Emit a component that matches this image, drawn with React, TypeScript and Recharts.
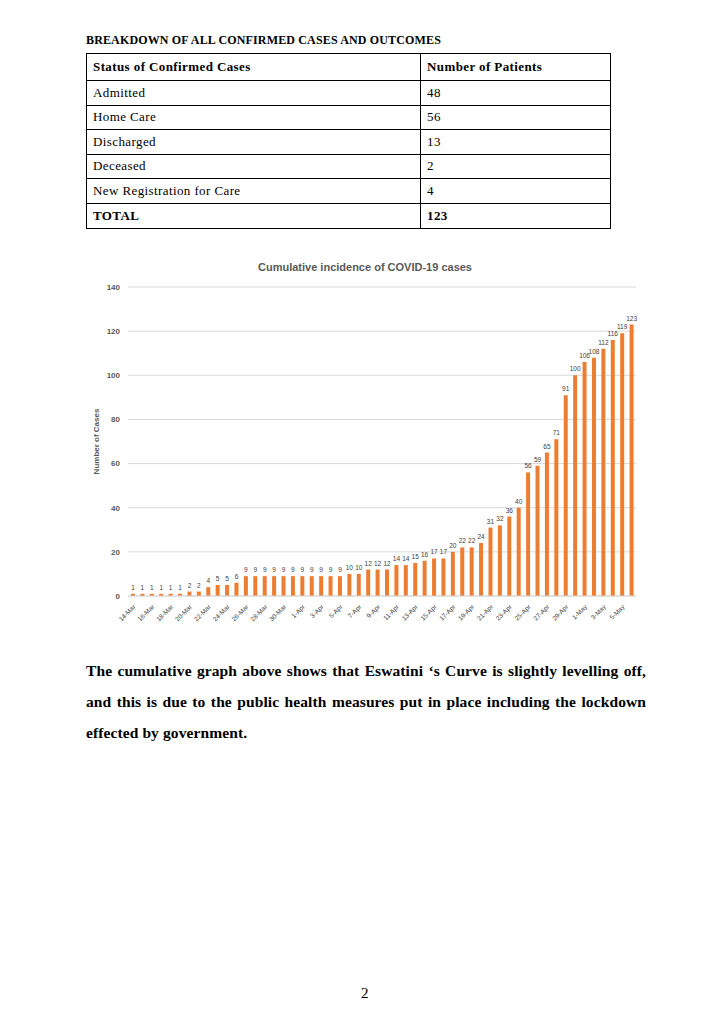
import React from "react";
import { BarChart, Bar, XAxis, YAxis, CartesianGrid, LabelList } from "recharts";

const dates = [
  "14-Mar", "15-Mar", "16-Mar", "17-Mar", "18-Mar", "19-Mar", "20-Mar", "21-Mar", "22-Mar", "23-Mar",
  "24-Mar", "25-Mar", "26-Mar", "27-Mar", "28-Mar", "29-Mar", "30-Mar", "31-Mar", "1-Apr", "2-Apr",
  "3-Apr", "4-Apr", "5-Apr", "6-Apr", "7-Apr", "8-Apr", "9-Apr", "10-Apr", "11-Apr", "12-Apr",
  "13-Apr", "14-Apr", "15-Apr", "16-Apr", "17-Apr", "18-Apr", "19-Apr", "20-Apr", "21-Apr", "22-Apr",
  "23-Apr", "24-Apr", "25-Apr", "26-Apr", "27-Apr", "28-Apr", "29-Apr", "30-Apr", "1-May", "2-May",
  "3-May", "4-May", "5-May", "6-May",
];

const cases = [
  1, 1, 1, 1, 1, 1, 2, 2, 4, 5,
  5, 6, 9, 9, 9, 9, 9, 9, 9, 9,
  9, 9, 9, 10, 10, 12, 12, 12, 14, 14,
  15, 16, 17, 17, 20, 22, 22, 24, 31, 32,
  36, 40, 56, 59, 65, 71, 91, 100, 106, 108,
  112, 116, 119, 123,
];

const yTicks = [0, 20, 40, 60, 80, 100, 120, 140];

const statuses = ["Admitted", "Home Care", "Discharged", "Deceased", "New Registration for Care"];
const patients = [48, 56, 13, 2, 4];
const total = 123;

const paragraph = [
  " The cumulative graph above shows that  Eswatini \u2018s Curve is slightly levelling off,",
  "and this is due to the public health measures put in place including the lockdown",
  "effected by government.",
];

const data = dates.map((d, i) => ({ date: d, cases: cases[i] }));

const serif = "'Liberation Serif', 'DejaVu Serif', serif";
const sans = "'Liberation Sans', Arial, sans-serif";

const cell: React.CSSProperties = {
  border: "1px solid #000",
  padding: "0 6px",
  verticalAlign: "middle",
  textAlign: "left",
};

export default function App() {
  return (
    <div style={{ position: "absolute", left: 0, top: 0, width: 720, height: 1015, background: "#fff", fontFamily: serif, color: "#000" }}>
      <div style={{ position: "absolute", left: 86, top: 33, fontWeight: "bold", fontSize: 12, letterSpacing: 0.15 }}>
        BREAKDOWN OF ALL CONFIRMED CASES AND OUTCOMES
      </div>

      <table
        style={{
          position: "absolute",
          left: 86,
          top: 53,
          width: 525,
          borderCollapse: "collapse",
          fontSize: 13,
          letterSpacing: 0.4,
        }}
      >
        <tbody>
          <tr style={{ height: 27, fontWeight: "bold" }}>
            <td style={{ ...cell, width: 321 }}>Status of Confirmed Cases</td>
            <td style={cell}>Number of Patients</td>
          </tr>
          {statuses.map((s, i) => (
            <tr key={s} style={{ height: 24.5 }}>
              <td style={cell}>{s}</td>
              <td style={cell}>{patients[i]}</td>
            </tr>
          ))}
          <tr style={{ height: 25, fontWeight: "bold" }}>
            <td style={cell}>TOTAL</td>
            <td style={cell}>{total}</td>
          </tr>
        </tbody>
      </table>

      <div
        style={{
          position: "absolute",
          left: 80,
          top: 261,
          width: 570,
          textAlign: "center",
          fontFamily: sans,
          fontWeight: "bold",
          fontSize: 11,
          color: "#595959",
        }}
      >
        Cumulative incidence of COVID-19 cases
      </div>

      <div style={{ position: "absolute", left: 80, top: 280 }}>
        <BarChart
          width={570}
          height={362}
          data={data}
          margin={{ top: 7, right: 14, left: 0, bottom: 0 }}
        >
          <CartesianGrid vertical={false} stroke="#d9d9d9" strokeWidth={1} />
          <XAxis
            dataKey="date"
            interval={1}
            height={46}
            tickLine={false}
            axisLine={{ stroke: "#d9d9d9" }}
            angle={-45}
            textAnchor="end"
            tick={{ fontSize: 6.5, fill: "#404040", fontFamily: sans }}
          />
          <YAxis
            domain={[0, 140]}
            ticks={yTicks}
            width={48}
            tickLine={false}
            axisLine={false}
            tick={{ fontSize: 8, fill: "#595959", fontFamily: sans, fontWeight: "bold" }}
            label={{
              value: "Number of Cases",
              angle: -90,
              position: "insideLeft",
              offset: 16,
              style: { fontSize: 8, fill: "#595959", fontFamily: sans, fontWeight: "bold", textAnchor: "middle" },
            }}
          />
          <Bar dataKey="cases" fill="#ED7D31" barSize={4} isAnimationActive={false}>
            <LabelList dataKey="cases" position="top" offset={4} style={{ fontSize: 6.5, fill: "#404040", fontFamily: sans }} />
          </Bar>
        </BarChart>
      </div>

      <div style={{ position: "absolute", left: 86, top: 660, width: 560, fontWeight: "bold", fontSize: 15.5, letterSpacing: 0.1 }}>
        {paragraph.map((line, i) => (
          <div
            key={i}
            style={{
              height: 31,
              lineHeight: "22px",
              whiteSpace: i === paragraph.length - 1 ? "pre" : "normal",
              textAlign: i === paragraph.length - 1 ? "left" : "justify",
              textAlignLast: i === paragraph.length - 1 ? "left" : "justify",
            }}
          >
            {line}
          </div>
        ))}
      </div>

      <div style={{ position: "absolute", left: 361, top: 985, fontSize: 15 }}>2</div>
    </div>
  );
}
